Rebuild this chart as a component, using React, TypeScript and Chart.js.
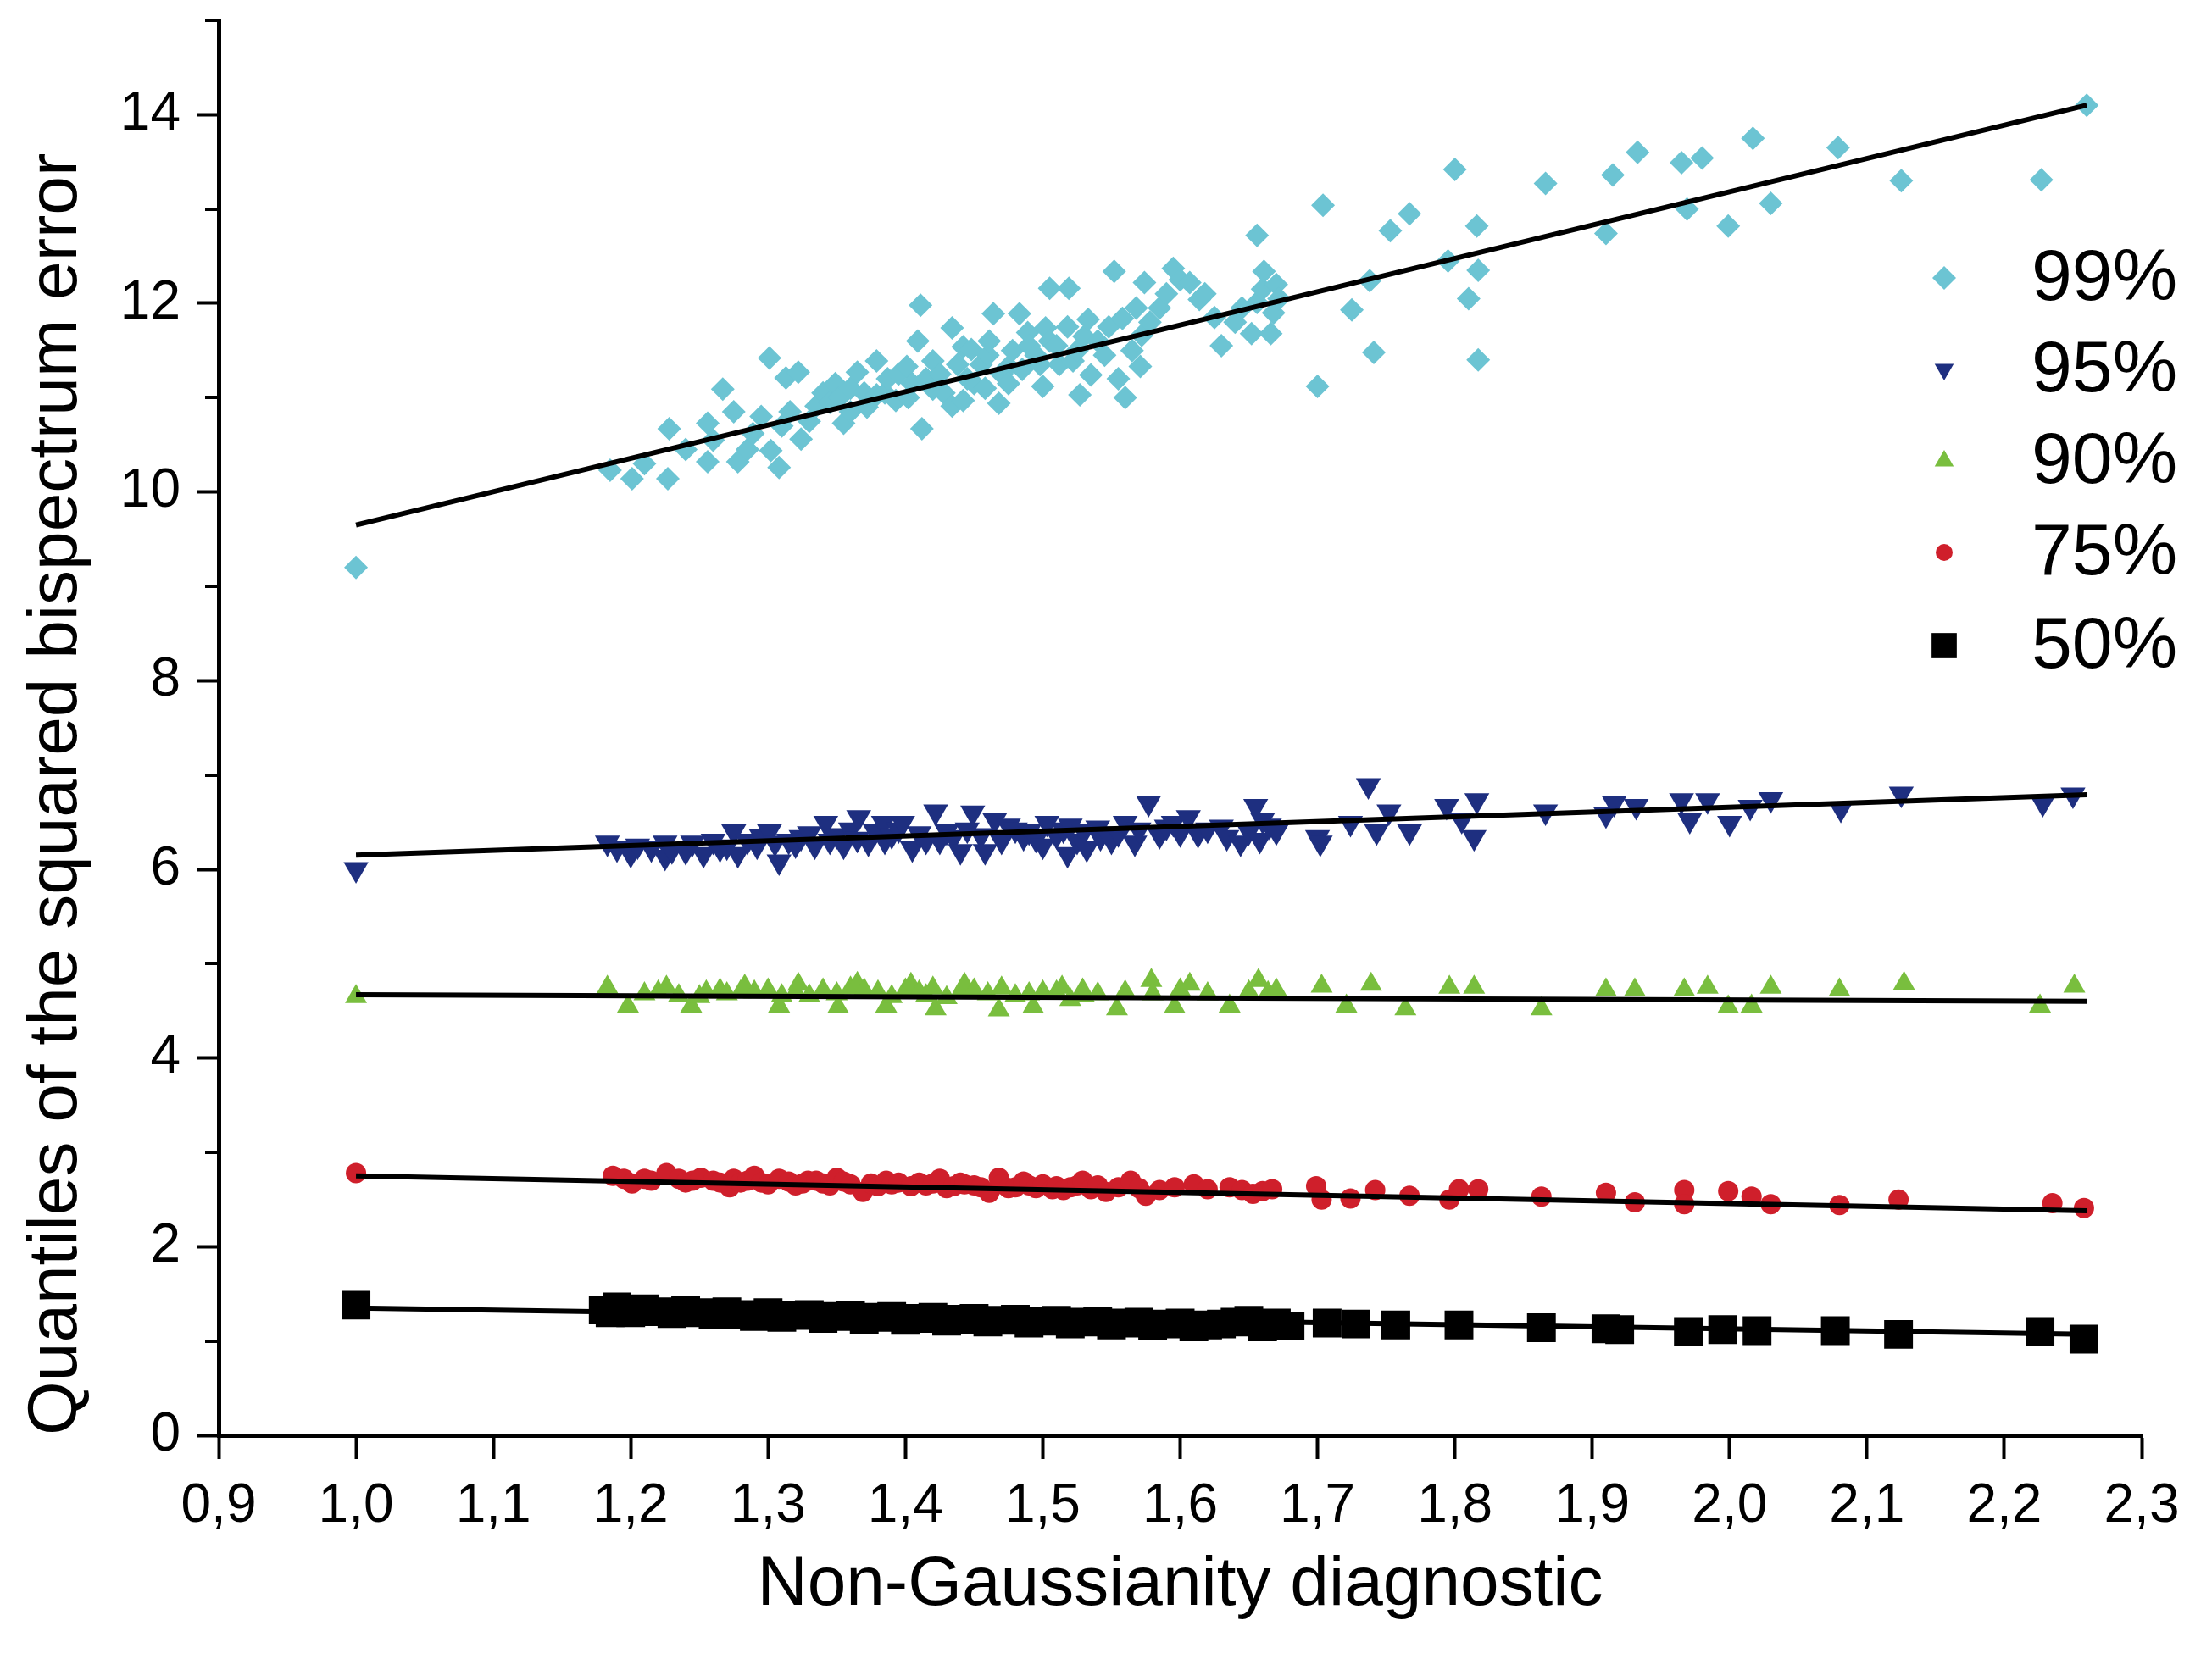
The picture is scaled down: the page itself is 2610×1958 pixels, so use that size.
import React, { useEffect, useRef } from 'react';
import { Chart, registerables } from 'chart.js';

Chart.register(...registerables);

// ---------- data ----------
const seriesLabels = ['99%', '95%', '90%', '75%', '50%'];

const q99: number[][] = [
  [1.0, 9.2], [1.185, 10.23], [1.201, 10.14], [1.21, 10.3], [1.227, 10.14], [1.228, 10.67], [1.24, 10.45],
  [1.256, 10.73], [1.256, 10.32], [1.26, 10.55], [1.267, 11.09], [1.275, 10.85], [1.278, 10.32], [1.285, 10.45],
  [1.289, 10.62], [1.295, 10.8], [1.301, 11.42], [1.302, 10.44], [1.308, 10.26], [1.31, 10.7], [1.313, 11.21],
  [1.316, 10.85], [1.322, 11.27], [1.324, 10.56], [1.33, 10.75], [1.335, 10.91], [1.34, 11.05], [1.345, 10.95],
  [1.349, 11.15], [1.352, 11.0], [1.355, 10.73], [1.36, 11.1], [1.36, 10.85], [1.365, 11.27], [1.37, 11.05],
  [1.372, 10.9], [1.379, 11.39], [1.379, 11.03], [1.385, 11.05], [1.387, 11.2], [1.393, 10.97], [1.395, 11.25],
  [1.401, 11.33], [1.402, 11.0], [1.405, 11.15], [1.409, 11.6], [1.411, 11.98], [1.412, 10.67], [1.415, 11.2],
  [1.42, 11.39], [1.42, 11.09], [1.425, 11.25], [1.428, 11.05], [1.434, 11.74], [1.434, 10.91], [1.438, 11.35],
  [1.442, 11.54], [1.442, 10.97], [1.445, 11.2], [1.448, 11.51], [1.45, 11.15], [1.455, 11.35], [1.458, 11.1],
  [1.46, 11.45], [1.461, 11.6], [1.464, 11.89], [1.468, 10.94], [1.47, 11.25], [1.475, 11.33], [1.475, 11.15],
  [1.478, 11.5], [1.483, 11.89], [1.485, 11.3], [1.489, 11.69], [1.49, 11.55], [1.495, 11.45], [1.498, 11.35],
  [1.5, 11.12], [1.502, 11.74], [1.505, 12.16], [1.505, 11.6], [1.51, 11.55], [1.512, 11.35], [1.518, 11.75],
  [1.519, 12.16], [1.522, 11.39], [1.525, 11.5], [1.527, 11.03], [1.53, 11.65], [1.533, 11.83], [1.535, 11.24],
  [1.54, 11.6], [1.545, 11.45], [1.548, 11.75], [1.552, 12.34], [1.555, 11.2], [1.558, 11.84], [1.56, 11.0],
  [1.565, 11.5], [1.568, 11.95], [1.571, 11.33], [1.572, 11.66], [1.574, 12.22], [1.578, 11.8], [1.585, 11.95],
  [1.59, 12.1], [1.595, 12.37], [1.6, 12.25], [1.607, 12.22], [1.614, 12.04], [1.618, 12.1], [1.625, 11.85],
  [1.63, 11.55], [1.64, 11.8], [1.645, 11.95], [1.652, 11.68], [1.656, 12.01], [1.656, 12.72], [1.66, 12.15],
  [1.661, 12.34], [1.666, 11.68], [1.668, 11.9], [1.67, 12.2], [1.672, 12.05], [1.7, 11.12], [1.704, 13.04],
  [1.725, 11.93], [1.738, 12.24], [1.741, 11.48], [1.753, 12.77], [1.767, 12.95], [1.795, 12.45], [1.8, 13.42],
  [1.81, 12.05], [1.816, 12.82], [1.817, 12.35], [1.817, 11.4], [1.866, 13.27], [1.91, 12.74], [1.915, 13.36],
  [1.933, 13.6], [1.965, 13.49], [1.969, 13.0], [1.98, 13.54], [1.999, 12.82], [2.017, 13.75], [2.03, 13.06],
  [2.079, 13.65], [2.125, 13.3], [2.227, 13.31], [2.26, 14.1],
];

const q95: number[][] = [
  [1.0, 6.0], [1.183, 6.28], [1.19, 6.22], [1.2, 6.16], [1.205, 6.25], [1.215, 6.22], [1.225, 6.28], [1.225, 6.13],
  [1.23, 6.2], [1.24, 6.19], [1.245, 6.28], [1.253, 6.16], [1.26, 6.3], [1.265, 6.22], [1.27, 6.24], [1.275, 6.4],
  [1.278, 6.16], [1.285, 6.3], [1.292, 6.25], [1.295, 6.35], [1.301, 6.4], [1.305, 6.28], [1.308, 6.08], [1.315, 6.3],
  [1.32, 6.26], [1.324, 6.34], [1.33, 6.38], [1.334, 6.25], [1.342, 6.49], [1.345, 6.3], [1.35, 6.36], [1.355, 6.25],
  [1.36, 6.42], [1.365, 6.32], [1.366, 6.55], [1.373, 6.28], [1.378, 6.4], [1.384, 6.49], [1.385, 6.3], [1.39, 6.36],
  [1.395, 6.42], [1.398, 6.49], [1.405, 6.22], [1.41, 6.38], [1.415, 6.3], [1.422, 6.61], [1.425, 6.3], [1.43, 6.4],
  [1.435, 6.34], [1.44, 6.19], [1.445, 6.42], [1.449, 6.6], [1.455, 6.36], [1.458, 6.19], [1.465, 6.52], [1.47, 6.3],
  [1.475, 6.46], [1.48, 6.42], [1.486, 6.34], [1.49, 6.4], [1.495, 6.32], [1.5, 6.25], [1.503, 6.49], [1.51, 6.36],
  [1.515, 6.42], [1.518, 6.16], [1.52, 6.46], [1.525, 6.3], [1.53, 6.4], [1.532, 6.22], [1.54, 6.44], [1.542, 6.34],
  [1.55, 6.3], [1.555, 6.38], [1.56, 6.49], [1.567, 6.28], [1.57, 6.42], [1.577, 6.7], [1.585, 6.36], [1.59, 6.45],
  [1.595, 6.49], [1.6, 6.38], [1.606, 6.55], [1.613, 6.37], [1.62, 6.42], [1.63, 6.45], [1.634, 6.34], [1.644, 6.28],
  [1.65, 6.4], [1.655, 6.67], [1.658, 6.31], [1.66, 6.52], [1.665, 6.46], [1.67, 6.4], [1.7, 6.34], [1.702, 6.28],
  [1.724, 6.49], [1.737, 6.89], [1.743, 6.4], [1.752, 6.61], [1.767, 6.4], [1.794, 6.67], [1.805, 6.52], [1.814, 6.34],
  [1.816, 6.73], [1.866, 6.61], [1.91, 6.58], [1.916, 6.7], [1.932, 6.67], [1.965, 6.73], [1.971, 6.52], [1.984, 6.73],
  [2.0, 6.49], [2.015, 6.66], [2.03, 6.74], [2.081, 6.64], [2.125, 6.8], [2.228, 6.7], [2.25, 6.79],
];

const q90: number[][] = [
  [1.0, 4.65], [1.183, 4.75], [1.198, 4.55], [1.21, 4.68], [1.22, 4.7], [1.226, 4.75], [1.235, 4.66], [1.244, 4.55],
  [1.25, 4.65], [1.255, 4.7], [1.265, 4.72], [1.27, 4.68], [1.28, 4.7], [1.283, 4.76], [1.29, 4.7], [1.3, 4.72],
  [1.308, 4.55], [1.31, 4.66], [1.32, 4.7], [1.322, 4.78], [1.33, 4.66], [1.34, 4.72], [1.35, 4.68], [1.351, 4.54],
  [1.36, 4.74], [1.365, 4.79], [1.37, 4.72], [1.38, 4.7], [1.386, 4.55], [1.39, 4.65], [1.4, 4.72], [1.404, 4.78],
  [1.41, 4.7], [1.415, 4.66], [1.42, 4.74], [1.422, 4.52], [1.43, 4.64], [1.44, 4.7], [1.443, 4.78], [1.45, 4.72],
  [1.46, 4.68], [1.468, 4.51], [1.47, 4.74], [1.48, 4.66], [1.49, 4.68], [1.493, 4.54], [1.5, 4.7], [1.51, 4.7],
  [1.514, 4.75], [1.52, 4.62], [1.529, 4.72], [1.53, 4.66], [1.54, 4.68], [1.554, 4.52], [1.56, 4.7], [1.579, 4.82],
  [1.58, 4.68], [1.596, 4.54], [1.6, 4.72], [1.607, 4.78], [1.62, 4.68], [1.636, 4.55], [1.65, 4.7], [1.657, 4.82],
  [1.664, 4.69], [1.67, 4.72], [1.703, 4.76], [1.721, 4.55], [1.739, 4.78], [1.764, 4.52], [1.796, 4.75],
  [1.814, 4.75], [1.863, 4.52], [1.91, 4.72], [1.931, 4.72], [1.967, 4.72], [1.984, 4.75], [1.999, 4.54],
  [2.016, 4.55], [2.03, 4.75], [2.08, 4.72], [2.127, 4.79], [2.226, 4.55], [2.251, 4.76],
];

const q75: number[][] = [
  [1.0, 2.78], [1.187, 2.75], [1.195, 2.72], [1.201, 2.67], [1.21, 2.72], [1.215, 2.7], [1.226, 2.78], [1.235, 2.72],
  [1.24, 2.68], [1.245, 2.7], [1.251, 2.73], [1.26, 2.7], [1.265, 2.68], [1.272, 2.63], [1.275, 2.72], [1.28, 2.68],
  [1.285, 2.7], [1.29, 2.75], [1.295, 2.68], [1.3, 2.66], [1.308, 2.72], [1.315, 2.69], [1.32, 2.65], [1.325, 2.67],
  [1.329, 2.7], [1.335, 2.7], [1.34, 2.67], [1.345, 2.65], [1.35, 2.73], [1.355, 2.69], [1.36, 2.66], [1.369, 2.58],
  [1.375, 2.67], [1.38, 2.64], [1.386, 2.7], [1.39, 2.66], [1.395, 2.68], [1.404, 2.64], [1.41, 2.68], [1.415, 2.65],
  [1.42, 2.67], [1.425, 2.72], [1.43, 2.62], [1.435, 2.64], [1.44, 2.68], [1.443, 2.66], [1.45, 2.65], [1.455, 2.63],
  [1.461, 2.57], [1.468, 2.73], [1.47, 2.66], [1.475, 2.62], [1.48, 2.63], [1.486, 2.69], [1.49, 2.65], [1.495, 2.62],
  [1.5, 2.66], [1.507, 2.61], [1.51, 2.64], [1.515, 2.6], [1.52, 2.63], [1.525, 2.65], [1.529, 2.7], [1.535, 2.61],
  [1.54, 2.65], [1.546, 2.58], [1.555, 2.63], [1.564, 2.7], [1.57, 2.62], [1.575, 2.54], [1.585, 2.6], [1.596, 2.63],
  [1.61, 2.66], [1.62, 2.61], [1.636, 2.63], [1.645, 2.6], [1.653, 2.56], [1.66, 2.59], [1.667, 2.61], [1.699, 2.64],
  [1.703, 2.5], [1.724, 2.51], [1.742, 2.6], [1.767, 2.54], [1.796, 2.5], [1.803, 2.61], [1.817, 2.61],
  [1.863, 2.53], [1.91, 2.57], [1.931, 2.47], [1.967, 2.6], [1.967, 2.45], [1.999, 2.59], [2.016, 2.53],
  [2.03, 2.45], [2.08, 2.44], [2.123, 2.5], [2.235, 2.46], [2.258, 2.41],
];

const q50: number[][] = [
  [1.0, 1.38], [1.18, 1.33], [1.185, 1.3], [1.19, 1.36], [1.2, 1.3], [1.21, 1.34], [1.22, 1.31], [1.23, 1.29],
  [1.24, 1.33], [1.25, 1.3], [1.26, 1.28], [1.27, 1.31], [1.28, 1.28], [1.29, 1.26], [1.3, 1.3], [1.31, 1.25],
  [1.32, 1.27], [1.33, 1.28], [1.34, 1.24], [1.35, 1.26], [1.36, 1.27], [1.37, 1.23], [1.38, 1.25], [1.39, 1.26],
  [1.4, 1.22], [1.41, 1.24], [1.42, 1.25], [1.43, 1.21], [1.44, 1.23], [1.45, 1.24], [1.46, 1.2], [1.47, 1.22],
  [1.48, 1.23], [1.49, 1.19], [1.5, 1.21], [1.51, 1.22], [1.52, 1.18], [1.53, 1.2], [1.54, 1.21], [1.55, 1.17],
  [1.56, 1.19], [1.57, 1.2], [1.58, 1.16], [1.59, 1.18], [1.6, 1.19], [1.61, 1.15], [1.62, 1.17], [1.63, 1.18],
  [1.64, 1.2], [1.65, 1.22], [1.66, 1.15], [1.67, 1.19], [1.68, 1.16], [1.707, 1.19], [1.728, 1.18], [1.757, 1.17],
  [1.803, 1.17], [1.863, 1.14], [1.91, 1.13], [1.92, 1.12], [1.97, 1.1], [1.995, 1.12], [2.02, 1.11],
  [2.077, 1.11], [2.123, 1.07], [2.226, 1.1], [2.258, 1.02],
];

const fitX = [1.0, 2.26];
const fit99 = [9.65, 14.1];
const fit95 = [6.15, 6.79];
const fit90 = [4.67, 4.6];
const fit75 = [2.75, 2.38];
const fit50 = [1.35, 1.07];

const xTickValues = [0.9, 1.0, 1.1, 1.2, 1.3, 1.4, 1.5, 1.6, 1.7, 1.8, 1.9, 2.0, 2.1, 2.2, 2.3];
const yTickValues = [0, 2, 4, 6, 8, 10, 12, 14];
const yMinorTickValues = [1, 3, 5, 7, 9, 11, 13, 15];

// ---------- styles ----------
const FONT = "'Liberation Sans', Arial, Helvetica, sans-serif";
const colors = ['#6CC4D3', '#1E2F80', '#79BE3E', '#CF1F2B', '#000000'];
const pointStyles = ['rectRot', 'triangle', 'triangle', 'circle', 'rect'];
const pointRotations = [0, 180, 0, 0, 0];
const pointRadii = [14, 17, 15, 12, 24];
const legendRadii = [14, 13, 13, 10, 21];

const toPts = (arr: number[][]) => arr.map(([x, y]) => ({ x, y }));
const toLine = (ys: number[]) => fitX.map((x, i) => ({ x, y: ys[i] }));

function drawMarker(ctx: CanvasRenderingContext2D, style: string, x: number, y: number, r: number, color: string, rot: number) {
  ctx.save();
  ctx.fillStyle = color;
  ctx.beginPath();
  if (style === 'rectRot') {
    ctx.moveTo(x - r, y);
    ctx.lineTo(x, y - r);
    ctx.lineTo(x + r, y);
    ctx.lineTo(x, y + r);
  } else if (style === 'triangle') {
    const s = rot === 180 ? -1 : 1;
    ctx.moveTo(x, y - s * r);
    ctx.lineTo(x + r * 0.866, y + s * r * 0.5);
    ctx.lineTo(x - r * 0.866, y + s * r * 0.5);
  } else if (style === 'circle') {
    ctx.arc(x, y, r, 0, Math.PI * 2);
  } else {
    const h = r * Math.SQRT1_2;
    ctx.rect(x - h, y - h, 2 * h, 2 * h);
  }
  ctx.closePath();
  ctx.fill();
  ctx.restore();
}

const extrasPlugin = {
  id: 'extras',
  afterDraw(chart: any) {
    const ctx: CanvasRenderingContext2D = chart.ctx;
    const yScale = chart.scales.y;
    const left = chart.chartArea.left;
    // minor ticks on y axis
    ctx.save();
    ctx.strokeStyle = '#000';
    ctx.lineWidth = 4;
    yMinorTickValues.forEach((v) => {
      const py = Math.round(yScale.getPixelForValue(v));
      ctx.beginPath();
      ctx.moveTo(left - 16, py);
      ctx.lineTo(left, py);
      ctx.stroke();
    });
    ctx.restore();
    // legend
    const markerX = 2294;
    const textX = 2397;
    const rowY = [328, 436, 544, 652, 762];
    ctx.save();
    ctx.font = `86px ${FONT}`;
    ctx.fillStyle = '#000';
    ctx.textBaseline = 'middle';
    ctx.textAlign = 'left';
    seriesLabels.forEach((lab, i) => {
      drawMarker(ctx, pointStyles[i], markerX, rowY[i], legendRadii[i], colors[i], pointRotations[i]);
      ctx.fillText(lab, textX, rowY[i] + 2);
    });
    ctx.restore();
  },
};

export default function App() {
  const canvasRef = useRef<HTMLCanvasElement | null>(null);

  useEffect(() => {
    document.body.style.margin = '0';
    const canvas = canvasRef.current;
    if (!canvas) return;
    const scatterSets = [q99, q95, q90, q75, q50].map((arr, i) => ({
      type: 'scatter' as const,
      label: seriesLabels[i],
      data: toPts(arr),
      pointStyle: pointStyles[i],
      rotation: pointRotations[i],
      pointRadius: pointRadii[i],
      pointBackgroundColor: colors[i],
      pointBorderWidth: 0,
      pointBorderColor: colors[i],
      showLine: false,
      order: 2,
    }));
    const lineSets = [fit99, fit95, fit90, fit75, fit50].map((ys, i) => ({
      type: 'scatter' as const,
      label: 'fit ' + seriesLabels[i],
      data: toLine(ys),
      showLine: true,
      borderColor: '#000',
      borderWidth: 6,
      pointRadius: 0,
      order: 1,
    }));

    const chart = new Chart(canvas, {
      type: 'scatter',
      data: { datasets: [...lineSets, ...scatterSets] as any },
      options: {
        animation: false,
        responsive: false,
        devicePixelRatio: 1,
        events: [],
        layout: { padding: { top: 20, right: 83, left: 0, bottom: 0 } },
        plugins: { legend: { display: false }, tooltip: { enabled: false } },
        scales: {
          x: {
            type: 'linear',
            min: 0.9,
            max: 2.3,
            afterBuildTicks: (scale: any) => {
              scale.ticks = xTickValues.map((v) => ({ value: v }));
            },
            afterFit: (scale: any) => {
              scale.height = 264;
              scale.paddingLeft = 0;
              scale.paddingRight = 0;
            },
            border: { display: true, color: '#000', width: 5 },
            grid: { display: true, drawOnChartArea: false, drawTicks: true, tickLength: 28, tickColor: '#000', tickWidth: 4 },
            ticks: {
              autoSkip: false,
              maxRotation: 0,
              padding: 18,
              color: '#000',
              font: { family: FONT, size: 64 },
              callback: (v: any) => Number(v).toFixed(1).replace('.', ','),
            },
            title: {
              display: true,
              text: 'Non-Gaussianity diagnostic',
              color: '#000',
              font: { family: FONT, size: 82 },
              padding: { top: 0, bottom: 37 },
            },
          },
          y: {
            type: 'linear',
            min: 0,
            max: 15,
            afterBuildTicks: (scale: any) => {
              scale.ticks = yTickValues.map((v) => ({ value: v }));
            },
            afterFit: (scale: any) => {
              scale.width = 258;
              scale.paddingTop = 0;
              scale.paddingBottom = 0;
            },
            border: { display: true, color: '#000', width: 5 },
            grid: { display: true, drawOnChartArea: false, drawTicks: true, tickLength: 25, tickColor: '#000', tickWidth: 4 },
            ticks: {
              padding: 20,
              color: '#000',
              font: { family: FONT, size: 64 },
              callback: (v: any) => String(v),
            },
            title: {
              display: true,
              text: 'Quantiles of the squared bispectrum error',
              align: 'start',
              color: '#000',
              font: { family: FONT, size: 82 },
              padding: { top: 18, bottom: 0 },
            },
          },
        },
      },
      plugins: [extrasPlugin],
    });
    return () => chart.destroy();
  }, []);

  return (
    <div style={{ position: 'absolute', left: 0, top: 0, width: 2610, height: 1958, background: '#fff' }}>
      <canvas ref={canvasRef} width={2610} height={1958} style={{ width: 2610, height: 1958, display: 'block' }} />
    </div>
  );
}
